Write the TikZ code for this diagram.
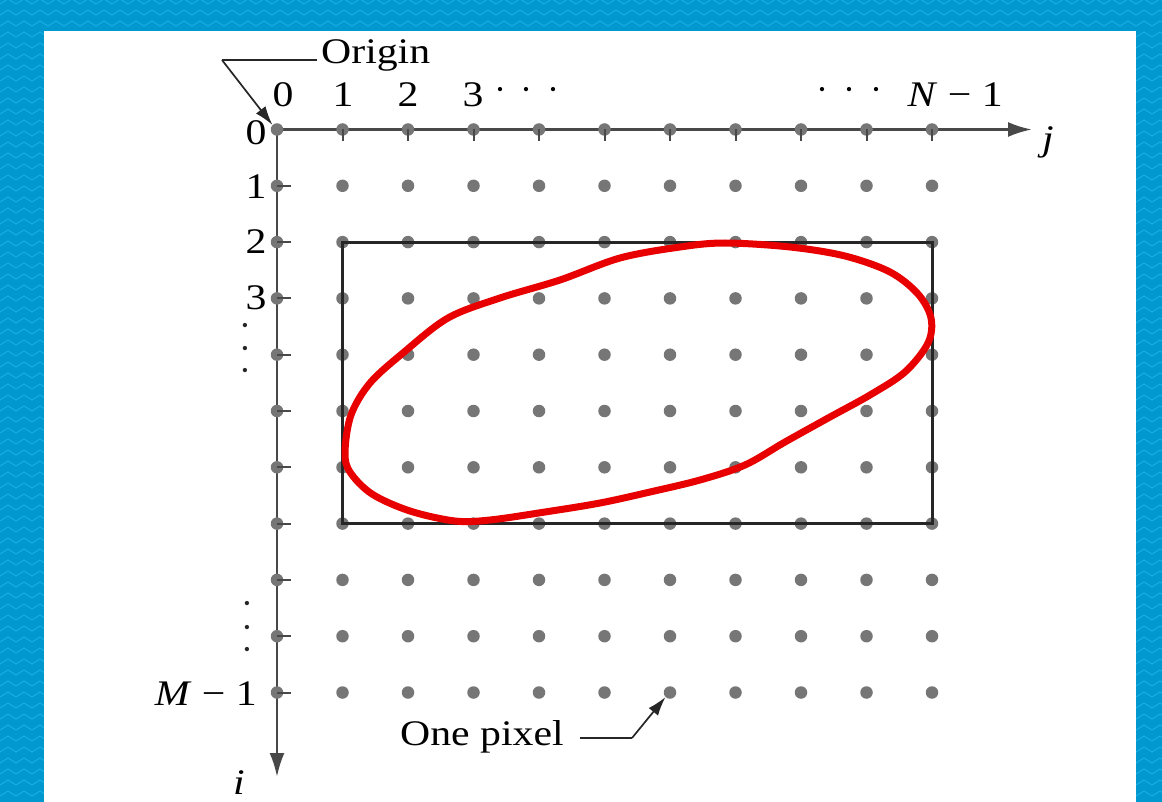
\documentclass[tikz,border=0pt]{standalone}
\usepackage{graphicx}
\usepackage{fontspec}
\setmainfont{Liberation Serif}
\usetikzlibrary{arrows.meta}
\definecolor{bgblue}{RGB}{0,152,206}
\definecolor{bgline}{RGB}{24,174,226}
\definecolor{dotgray}{RGB}{118,118,118}
\definecolor{axisgray}{RGB}{72,72,72}
\definecolor{curvered}{RGB}{232,0,0}
\newcommand{\wt}[1]{\scalebox{1.16}[1]{#1}}
\begin{document}
\begin{tikzpicture}[x=1pt,y=-1pt,
  pix/.style={circle,fill=dotgray,inner sep=0pt,minimum size=12.5pt},
  lbl/.style={font=\fontsize{36}{38}\selectfont,inner sep=0pt},
  vd/.style={font=\fontsize{18}{19}\selectfont,inner sep=0pt,text=black!85},
  axisline/.style={draw=axisgray,line width=2.8pt,-{Latex[length=24pt,width=15pt]}},
  tick/.style={draw=axisgray,line width=2pt},
  callout/.style={draw=black!85,line width=1.7pt},
  callarrow/.style={draw=black!85,line width=1.7pt,-{Latex[length=19pt,width=12pt]}},
  boxline/.style={draw=black!85,line width=3pt},
  redcurve/.style={draw=curvered,line width=7pt,line join=round}]
\useasboundingbox (0,0) rectangle (1162,802);
\fill[bgblue] (0,0) rectangle (1162,802);
% background texture
\begin{scope}
\clip (0,0) rectangle (1162,802);
\foreach \y in {4,15,...,810}{
  \draw[bgline,line width=1pt] (0,\y) \foreach \x in {0,16,...,1168}{ -- ({\x+8},{\y-5}) -- ({\x+16},\y) };
}
\end{scope}
\fill[white] (44,31) rectangle (1136,802);
% axes
\coordinate (O) at (277,129.5);
\coordinate (jend) at (1032,129.5);
\coordinate (iend) at (277,777);
\draw[axisline] (O) -- (jend);
\draw[axisline] (O) -- (iend);
% grid of pixels
\foreach \r in {0,...,10}{
  \foreach \c in {0,...,10}{
    \node[pix] (d-\r-\c) at ({277+65.5*\c},{129.5+56.3*\r}) {};
  }
}
% ticks
\foreach \c in {1,...,10}{
  \draw[tick] (d-0-\c.center) -- ++(0,12);
}
\foreach \r in {1,...,10}{
  \draw[tick] (d-\r-0.center) -- ++(14,0);
}
% rectangle
\draw[boxline] (d-2-1.center) rectangle (d-7-10.center);
% red closed curve
\draw[redcurve] plot[smooth cycle,tension=0.55] coordinates {
  (345,452) (351,415) (370,383) (403,353) (448,318) (500,298) (560,280)
  (620,258) (680,247) (725,243) (790,247) (845,256) (890,272) (918,294)
  (931,318) (928,343) (905,372) (870,395) (830,417) (785,442) (745,465)
  (700,480) (650,492) (600,503) (545,512) (490,520) (455,521) (410,511)
  (372,494) (350,472)};
% column labels
\node[lbl] (c0) at (283,95) {\wt{0}};
\node[lbl] (c1) at (343,95) {\wt{1}};
\node[lbl] (c2) at (408,95) {\wt{2}};
\node[lbl] (c3) at (473,95) {\wt{3}};
\node[lbl] (c3a) at (500,94) {·};
\node[lbl] (c3b) at (526,94) {·};
\node[lbl] (c3c) at (553,94) {·};
\node[lbl] (cNa) at (822,94) {·};
\node[lbl] (cNb) at (849,94) {·};
\node[lbl] (cNc) at (876,94) {·};
\node[lbl,anchor=east] (cN) at (1003,95) {\wt{\textit{N} − 1}};
\node[lbl] (jlab) at (1048,142) {\wt{\textit{j}}};
% row labels
\node[lbl] (r0) at (256,133) {\wt{0}};
\node[lbl] (r1) at (256,187) {\wt{1}};
\node[lbl] (r2) at (256,242) {\wt{2}};
\node[lbl] (r3) at (256,298) {\wt{3}};
\node[vd] (ra) at (245,327) {•};
\node[vd] (rb) at (245,350) {•};
\node[vd] (rc) at (245,372) {•};
\node[vd] (rd) at (247,605) {•};
\node[vd] (re) at (247,629) {•};
\node[vd] (rf) at (247,651) {•};
\node[lbl,anchor=east] (rM) at (257,694) {\wt{\textit{M} − 1}};
\node[lbl] (ilab) at (239,783) {\wt{\textit{i}}};
% origin callout
\node[lbl,anchor=west] (orig) at (321,55) {\wt{Origin}};
\coordinate (ok) at (222,60);
\draw[callout] (317,60) -- (ok);
\draw[callarrow] (ok) -- (d-0-0.north west);
% one pixel callout
\node[lbl,anchor=west] (onepix) at (400,737) {\wt{One pixel}};
\coordinate (pk) at (632,738);
\draw[callout] (580,738) -- (pk);
\draw[callarrow] (pk) -- (d-10-6.south west);
\end{tikzpicture}
\end{document}
